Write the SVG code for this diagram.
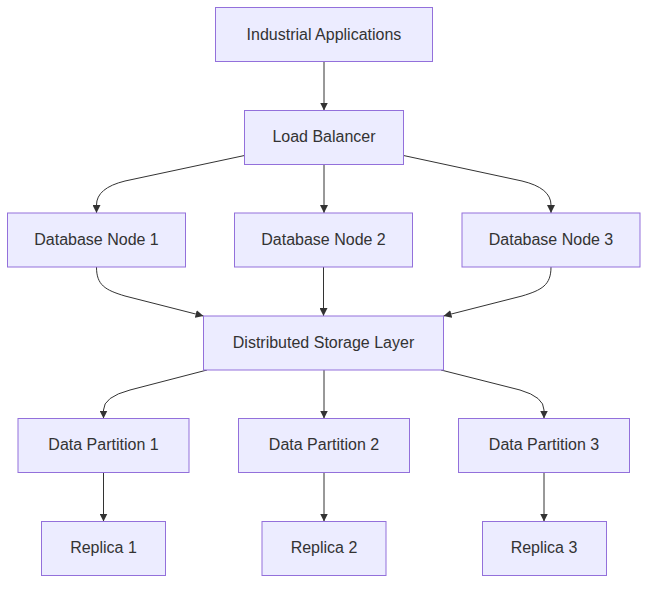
<svg xmlns="http://www.w3.org/2000/svg" width="656" height="590" viewBox="0 0 656 590">
<style>
.node rect{fill:#ECECFF;stroke:#9370DB;stroke-width:1}
.node text{font-family:"Liberation Sans","DejaVu Sans",sans-serif;font-size:16px;fill:#333;text-anchor:middle;dominant-baseline:central}
.edge{fill:none;stroke:#333;stroke-width:1;marker-end:url(#arr)}
</style>
<defs>
<marker id="arr" viewBox="0 0 10 10" refX="10" refY="5" markerWidth="8" markerHeight="8" markerUnits="userSpaceOnUse" orient="auto">
<path d="M0,0 L10,5 L0,10 z" fill="#333"/>
</marker>
</defs>
<rect width="656" height="590" fill="#fff"/>
<g id="connectors">
<path class="edge" d="M324,61.5 L324,110.5"/>
<path class="edge" d="M244.5,155.5 L125,181 Q96.5,188 96.5,205 L96.5,213"/>
<path class="edge" d="M324,164.5 L324,213"/>
<path class="edge" d="M403.5,155.5 L522,181 Q551,188 551,205 L551,213"/>
<path class="edge" d="M96.5,267 C96.5,285 105,290 125,296 L203.5,316"/>
<path class="edge" d="M323.5,267 L323.5,316"/>
<path class="edge" d="M551,267 C551,285 542,290 522,296 L443.5,316"/>
<path class="edge" d="M207,370 L130,390 Q103.5,397 103.5,410 L103.5,418.5"/>
<path class="edge" d="M324,370 L324,418.5"/>
<path class="edge" d="M441,370 L520,390 Q544,397 544,410 L544,418.5"/>
<path class="edge" d="M103.5,472.5 L103.5,521.5"/>
<path class="edge" d="M324,472.5 L324,521.5"/>
<path class="edge" d="M544,472.5 L544,521.5"/>
</g>
<g id="industrial" class="node"><rect x="215.5" y="7.5" width="217" height="54"/><text x="324" y="34">Industrial Applications</text></g>
<g id="lb" class="node"><rect x="244.5" y="110.5" width="159" height="54"/><text x="324" y="136.5">Load Balancer</text></g>
<g id="dn1" class="node"><rect x="7.5" y="213" width="178" height="54"/><text x="96.5" y="239">Database Node 1</text></g>
<g id="dn2" class="node"><rect x="234.5" y="213" width="178" height="54"/><text x="323.5" y="239">Database Node 2</text></g>
<g id="dn3" class="node"><rect x="462" y="213" width="178" height="54"/><text x="551" y="239">Database Node 3</text></g>
<g id="dsl" class="node"><rect x="203.5" y="316" width="240" height="54"/><text x="323.5" y="342">Distributed Storage Layer</text></g>
<g id="dp1" class="node"><rect x="18" y="418.5" width="171" height="54"/><text x="103.5" y="444.5">Data Partition 1</text></g>
<g id="dp2" class="node"><rect x="238.5" y="418.5" width="171" height="54"/><text x="324" y="444.5">Data Partition 2</text></g>
<g id="dp3" class="node"><rect x="458.5" y="418.5" width="171" height="54"/><text x="544" y="444.5">Data Partition 3</text></g>
<g id="r1" class="node"><rect x="41.5" y="521.5" width="124" height="54"/><text x="103.5" y="547.5">Replica 1</text></g>
<g id="r2" class="node"><rect x="262" y="521.5" width="124" height="54"/><text x="324" y="547.5">Replica 2</text></g>
<g id="r3" class="node"><rect x="482.5" y="521.5" width="124" height="54"/><text x="544" y="547.5">Replica 3</text></g>
</svg>
